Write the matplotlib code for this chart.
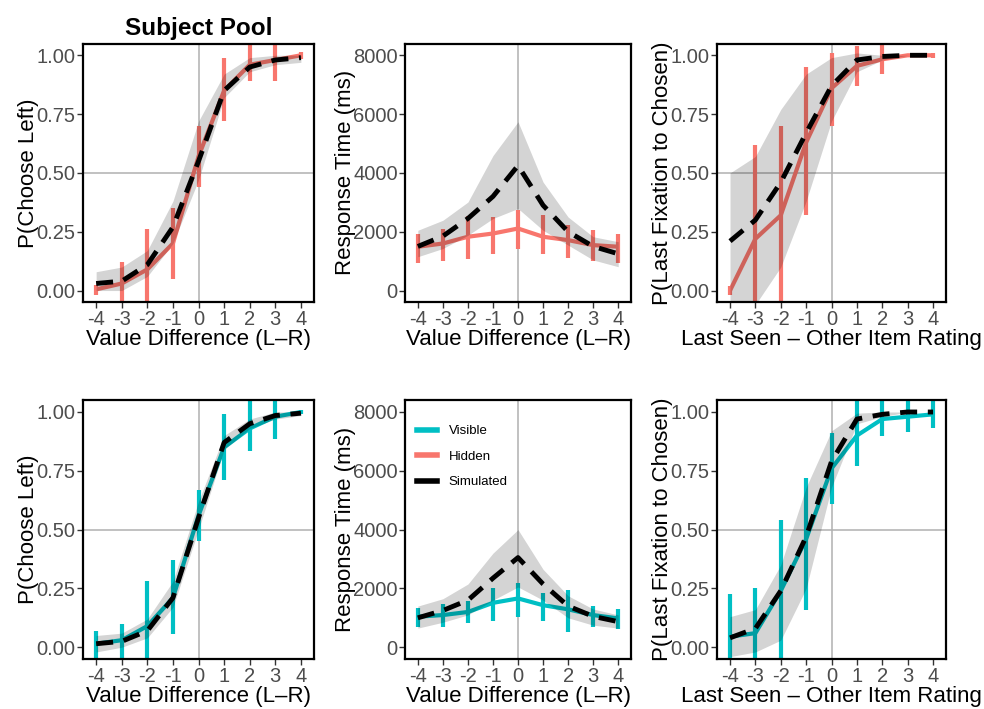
import numpy as np
import matplotlib.pyplot as plt
from matplotlib.lines import Line2D

plt.rcParams['font.family'] = ['Liberation Sans', 'DejaVu Sans']

x = [-4, -3, -2, -1, 0, 1, 2, 3, 4]
red = '#F8766D'
cyan = '#00BFC4'

# hidden condition (top row)
h_choice = [0.005, 0.03, 0.09, 0.20, 0.57, 0.85, 0.96, 0.98, 1.00]
h_choice_lo = [-0.02, -0.06, -0.06, 0.05, 0.44, 0.72, 0.89, 0.89, 0.985]
h_choice_hi = [0.025, 0.12, 0.26, 0.35, 0.70, 0.99, 1.08, 1.08, 1.015]
h_choice_sim = [0.03, 0.04, 0.11, 0.27, 0.55, 0.85, 0.95, 0.98, 0.99]
h_choice_sim_lo = [0.00, 0.00, 0.06, 0.20, 0.47, 0.82, 0.93, 0.96, 0.97]
h_choice_sim_hi = [0.08, 0.10, 0.17, 0.38, 0.72, 0.92, 0.99, 1.00, 1.00]

h_rt = [1490, 1600, 1830, 1940, 2110, 1830, 1715, 1545, 1490]
h_rt_lo = [925, 1015, 1060, 1260, 1430, 1240, 1095, 1015, 950]
h_rt_hi = [1940, 2110, 2530, 2500, 2750, 2560, 2245, 2075, 1940]
h_rt_sim = [1500, 1850, 2450, 3200, 4250, 2900, 2000, 1500, 1250]
h_rt_sim_lo = [1150, 1430, 1880, 2450, 2790, 2050, 1545, 1040, 810]
h_rt_sim_hi = [2050, 2390, 3010, 4590, 5740, 3690, 2500, 1830, 1660]

h_fix = [0.00, 0.22, 0.32, 0.63, 0.86, 0.955, 0.983, 1.00, 1.00]
h_fix_lo = [-0.02, -0.10, -0.10, 0.32, 0.70, 0.87, 0.92, 1.00, 0.99]
h_fix_hi = [0.02, 0.62, 0.70, 0.95, 1.01, 1.04, 1.08, 1.00, 1.01]
h_fix_sim = [0.21, 0.30, 0.46, 0.67, 0.87, 0.98, 0.995, 1.00, 1.00]
h_fix_sim_lo = [-0.10, -0.06, 0.10, 0.38, 0.72, 0.93, 0.98, 1.00, 1.00]
h_fix_sim_hi = [0.50, 0.57, 0.77, 0.92, 0.99, 1.01, 1.00, 1.00, 1.00]

# visible condition (bottom row)
v_choice = [0.015, 0.03, 0.09, 0.21, 0.56, 0.85, 0.93, 0.98, 1.00]
v_choice_lo = [-0.06, -0.06, -0.06, 0.055, 0.45, 0.71, 0.835, 0.885, 0.99]
v_choice_hi = [0.07, 0.10, 0.28, 0.37, 0.67, 0.99, 1.08, 1.08, 1.01]
v_choice_sim = [0.015, 0.025, 0.07, 0.21, 0.55, 0.87, 0.95, 0.985, 0.995]
v_choice_sim_lo = [-0.02, 0.00, 0.04, 0.17, 0.50, 0.84, 0.93, 0.97, 0.985]
v_choice_sim_hi = [0.05, 0.06, 0.12, 0.28, 0.62, 0.90, 0.97, 1.00, 1.00]

v_rt = [1040, 1095, 1200, 1510, 1660, 1430, 1290, 1095, 980]
v_rt_lo = [700, 700, 810, 900, 1040, 890, 530, 700, 610]
v_rt_hi = [1320, 1455, 1580, 2020, 2190, 1850, 1960, 1410, 1290]
v_rt_sim = [1000, 1250, 1600, 2350, 3050, 2150, 1400, 1050, 870]
v_rt_sim_lo = [650, 850, 1100, 1600, 2050, 1600, 1000, 750, 650]
v_rt_sim_hi = [1400, 1650, 2150, 3200, 4000, 2650, 1750, 1300, 1100]

v_fix = [0.045, 0.06, 0.24, 0.46, 0.76, 0.90, 0.97, 0.98, 0.99]
v_fix_lo = [-0.10, -0.10, -0.10, 0.16, 0.61, 0.77, 0.90, 0.915, 0.93]
v_fix_hi = [0.225, 0.25, 0.54, 0.72, 0.91, 1.08, 1.08, 1.08, 1.08]
v_fix_sim = [0.04, 0.08, 0.24, 0.47, 0.79, 0.97, 0.99, 1.00, 1.00]
v_fix_sim_lo = [-0.04, -0.02, 0.03, 0.25, 0.68, 0.95, 0.98, 1.00, 1.00]
v_fix_sim_hi = [0.13, 0.16, 0.35, 0.68, 0.92, 0.995, 1.00, 1.00, 1.00]

fig = plt.figure(figsize=(9.84, 7.09), dpi=100)

rows = [0.5736, 0.0705]
cols = [(0.0847, 0.2341), (0.4119, 0.2291), (0.7290, 0.2321)]
h = 0.3650


def panel(ax, col, y, lo, hi, sim, slo, shi, kind):
    ax.fill_between(x, slo, shi, color='black', alpha=0.17, lw=0, zorder=3)
    ax.vlines(x, lo, hi, color=col, lw=3, zorder=2)
    ax.plot(x, y, color=col, lw=3, zorder=2, solid_capstyle='butt')
    ax.plot(x, sim, color='black', lw=3.5, ls=(0, (3.5, 2.2)), zorder=4)
    ax.axvline(0, color='#b0b0b0', lw=1.1, zorder=1)
    ax.set_xlim(-4.5, 4.5)
    ax.set_xticks(x)
    ax.set_xticklabels([str(v) for v in x])
    if kind == 'rt':
        ax.set_ylim(-400, 8400)
        ax.set_yticks([0, 2000, 4000, 6000, 8000])
        ax.set_ylabel('Response Time (ms)', fontsize=16, labelpad=-2)
        ax.set_xlabel('Value Difference (L\u2013R)', fontsize=16, labelpad=0)
    else:
        ax.axhline(0.5, color='#b0b0b0', lw=1.1, zorder=1)
        ax.set_ylim(-0.05, 1.05)
        ax.set_yticks([0, 0.25, 0.5, 0.75, 1.0])
        ax.set_yticklabels(['0.00', '0.25', '0.50', '0.75', '1.00'])
        if kind == 'choice':
            ax.set_ylabel('P(Choose Left)', fontsize=16, labelpad=-2)
            ax.set_xlabel('Value Difference (L\u2013R)', fontsize=16, labelpad=0)
        else:
            ax.set_ylabel('P(Last Fixation to Chosen)', fontsize=16, labelpad=-2)
            ax.set_xlabel('Last Seen \u2013 Other Item Rating', fontsize=16, labelpad=0)
    ax.tick_params(labelsize=14.5, labelcolor='#4d4d4d', color='#333333',
                   length=4, width=1, pad=1.5)
    for s in ax.spines.values():
        s.set_linewidth(1.6)
        s.set_color('black')


top = [(h_choice, h_choice_lo, h_choice_hi, h_choice_sim, h_choice_sim_lo, h_choice_sim_hi, 'choice'),
       (h_rt, h_rt_lo, h_rt_hi, h_rt_sim, h_rt_sim_lo, h_rt_sim_hi, 'rt'),
       (h_fix, h_fix_lo, h_fix_hi, h_fix_sim, h_fix_sim_lo, h_fix_sim_hi, 'fix')]
bottom = [(v_choice, v_choice_lo, v_choice_hi, v_choice_sim, v_choice_sim_lo, v_choice_sim_hi, 'choice'),
          (v_rt, v_rt_lo, v_rt_hi, v_rt_sim, v_rt_sim_lo, v_rt_sim_hi, 'rt'),
          (v_fix, v_fix_lo, v_fix_hi, v_fix_sim, v_fix_sim_lo, v_fix_sim_hi, 'fix')]

axes = []
for r, (data, col) in enumerate([(top, red), (bottom, cyan)]):
    for c, d in enumerate(data):
        ax = fig.add_axes([cols[c][0], rows[r], cols[c][1], h])
        panel(ax, col, *d)
        axes.append(ax)

axes[0].set_title('Subject Pool', fontsize=17.5, fontweight='bold', pad=6)

handles = [Line2D([], [], color=cyan, lw=4),
           Line2D([], [], color=red, lw=4),
           Line2D([], [], color='black', lw=4)]
axes[4].legend(handles, ['Visible', 'Hidden', 'Simulated'], loc='upper left',
               frameon=False, fontsize=9.5, handlelength=1.5, handletextpad=0.9,
               labelspacing=1.0, bbox_to_anchor=(0.0, 0.95))

fig.savefig('out.png', dpi=100)
